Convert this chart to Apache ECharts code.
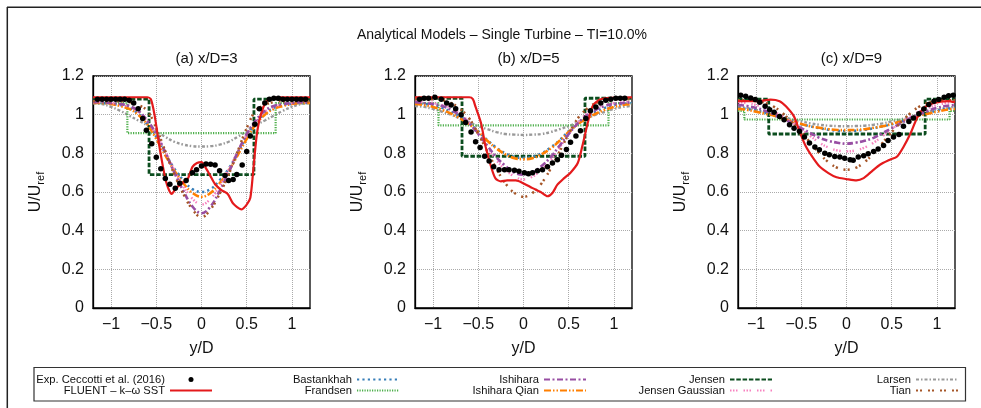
<!DOCTYPE html>
<html>
<head>
<meta charset="utf-8">
<script src="https://cdn.jsdelivr.net/npm/echarts@6/dist/echarts.min.js"></script>
<style>
    html, body { margin: 0; padding: 0; background: #fff; }
    #main { width: 981px; height: 408px; }
</style>
</head>
<body>
<div id="main"></div>
<script>
// x grid shared by the analytical model curves
var xs = [-1.2, -1.1, -1.0, -0.9, -0.8, -0.7, -0.6, -0.5, -0.4, -0.3, -0.2, -0.1, 0,
          0.1, 0.2, 0.3, 0.4, 0.5, 0.6, 0.7, 0.8, 0.9, 1.0, 1.1, 1.2];
var xTicks = [-1, -0.5, 0, 0.5, 1];
var panelTitles = ['(a) x/D=3', '(b) x/D=5', '(c) x/D=9'];

// ---- (a) x/D=3 ----
var expA = [[-1.15,1.08],[-1.1,1.08],[-1.05,1.08],[-1.0,1.08],[-0.95,1.08],[-0.9,1.08],[-0.85,1.08],[-0.8,1.075],
    [-0.75,1.06],[-0.7,1.03],[-0.65,0.98],[-0.61,0.92],[-0.55,0.85],[-0.5,0.78],[-0.45,0.72],[-0.4,0.67],
    [-0.35,0.64],[-0.29,0.62],[-0.24,0.645],[-0.17,0.66],[-0.1,0.70],[-0.055,0.715],[0,0.735],[0.05,0.745],
    [0.1,0.743],[0.15,0.74],[0.2,0.71],[0.26,0.685],[0.3,0.66],[0.35,0.665],[0.39,0.69],[0.45,0.74],
    [0.5,0.81],[0.54,0.89],[0.59,0.95],[0.64,1.03],[0.7,1.06],[0.75,1.08],[0.8,1.085],[0.85,1.085],
    [0.9,1.08],[0.95,1.08],[1.0,1.08],[1.05,1.08],[1.1,1.08],[1.15,1.08]];
var fluentA = [[-1.2,1.09],[-0.6,1.09],[-0.56,1.08],[-0.52,1.0],[-0.46,0.82],[-0.39,0.65],[-0.33,0.59],
    [-0.28,0.62],[-0.2,0.65],[-0.15,0.67],[-0.1,0.73],[-0.05,0.75],[0,0.755],[0.04,0.73],[0.09,0.69],
    [0.15,0.64],[0.22,0.61],[0.29,0.59],[0.35,0.54],[0.44,0.51],[0.5,0.535],[0.54,0.57],[0.57,0.70],
    [0.61,0.89],[0.65,0.99],[0.72,1.07],[0.86,1.09],[1.2,1.09]];
var bastA  = [1.06,1.06,1.055,1.05,1.035,1.005,0.955,0.885,0.80,0.72,0.66,0.615,0.60,0.615,0.66,0.72,0.80,0.885,0.955,1.005,1.035,1.05,1.055,1.06,1.06];
var qianA  = [1.06,1.06,1.055,1.045,1.03,1.0,0.95,0.875,0.79,0.71,0.645,0.595,0.575,0.595,0.645,0.71,0.79,0.875,0.95,1.0,1.03,1.045,1.055,1.06,1.06];
var ishiA  = [1.065,1.065,1.06,1.055,1.045,1.02,0.97,0.90,0.805,0.70,0.605,0.525,0.49,0.525,0.605,0.70,0.805,0.90,0.97,1.02,1.045,1.055,1.06,1.065,1.065];
var jgA    = [1.065,1.065,1.06,1.055,1.04,1.015,0.965,0.895,0.81,0.715,0.63,0.565,0.535,0.565,0.63,0.715,0.81,0.895,0.965,1.015,1.04,1.055,1.06,1.065,1.065];
var tianA  = [1.07,1.07,1.07,1.07,1.065,1.05,1.02,0.93,0.81,0.69,0.59,0.51,0.47,0.51,0.59,0.69,0.81,0.93,1.02,1.05,1.065,1.07,1.07,1.07,1.07];
var larsA  = [1.06,1.055,1.04,1.02,0.995,0.97,0.945,0.915,0.885,0.86,0.845,0.837,0.835,0.837,0.845,0.86,0.885,0.915,0.945,0.97,0.995,1.02,1.04,1.055,1.06];
var jensA  = [[-1.2,1.08],[-0.58,1.08],[-0.58,0.69],[0.58,0.69],[0.58,1.08],[1.2,1.08]];
var frandA = [[-1.2,1.06],[-0.82,1.06],[-0.82,0.905],[0.82,0.905],[0.82,1.06],[1.2,1.06]];

// ---- (b) x/D=5 ----
var expB = [[-1.15,1.08],[-1.1,1.085],[-1.05,1.085],[-0.98,1.09],[-0.91,1.08],[-0.85,1.06],[-0.8,1.05],[-0.75,1.03],
    [-0.69,1.0],[-0.64,0.96],[-0.58,0.91],[-0.53,0.86],[-0.48,0.83],[-0.43,0.785],[-0.38,0.76],[-0.33,0.73],
    [-0.27,0.715],[-0.21,0.715],[-0.16,0.715],[-0.1,0.712],[-0.05,0.707],[0.01,0.70],[0.055,0.695],[0.1,0.70],
    [0.155,0.71],[0.21,0.715],[0.265,0.73],[0.32,0.75],[0.375,0.767],[0.42,0.79],[0.475,0.82],[0.52,0.857],
    [0.58,0.89],[0.63,0.917],[0.69,0.98],[0.74,1.02],[0.8,1.04],[0.855,1.06],[0.91,1.075],[0.965,1.08],
    [1.02,1.085],[1.07,1.085],[1.12,1.085]];
var fluentB = [[-1.2,1.09],[-0.6,1.09],[-0.56,1.08],[-0.53,1.04],[-0.47,0.957],[-0.42,0.836],[-0.36,0.733],
    [-0.31,0.67],[-0.25,0.655],[-0.18,0.66],[-0.085,0.66],[0.007,0.643],[0.1,0.62],[0.19,0.60],[0.265,0.578],
    [0.32,0.595],[0.375,0.638],[0.45,0.672],[0.52,0.70],[0.6,0.75],[0.65,0.836],[0.71,0.957],[0.76,1.04],
    [0.84,1.077],[0.93,1.086],[1.2,1.09]];
var bastB  = [1.06,1.055,1.05,1.035,1.015,0.99,0.955,0.915,0.868,0.83,0.80,0.782,0.777,0.782,0.80,0.83,0.868,0.915,0.955,0.99,1.015,1.035,1.05,1.055,1.06];
var qianB  = [1.055,1.05,1.04,1.025,1.005,0.98,0.95,0.91,0.865,0.825,0.795,0.775,0.77,0.775,0.795,0.825,0.865,0.91,0.95,0.98,1.005,1.025,1.04,1.05,1.055];
var ishiB  = [1.065,1.06,1.055,1.045,1.025,0.995,0.955,0.90,0.84,0.78,0.735,0.70,0.69,0.70,0.735,0.78,0.84,0.90,0.955,0.995,1.025,1.045,1.055,1.06,1.065];
var jgB    = [1.07,1.065,1.06,1.05,1.035,1.005,0.96,0.90,0.83,0.765,0.715,0.68,0.665,0.68,0.715,0.765,0.83,0.90,0.96,1.005,1.035,1.05,1.06,1.065,1.07];
var tianB  = [1.08,1.08,1.08,1.075,1.06,1.03,0.98,0.90,0.81,0.72,0.645,0.595,0.575,0.595,0.645,0.72,0.81,0.90,0.98,1.03,1.06,1.075,1.08,1.08,1.08];
var larsB  = [1.045,1.04,1.03,1.015,1.0,0.98,0.96,0.94,0.925,0.91,0.90,0.897,0.895,0.897,0.90,0.91,0.925,0.94,0.96,0.98,1.0,1.015,1.03,1.04,1.045];
var jensB  = [[-1.2,1.085],[-0.68,1.085],[-0.68,0.785],[0.68,0.785],[0.68,1.085],[1.2,1.085]];
var frandB = [[-1.2,1.06],[-0.94,1.06],[-0.94,0.945],[0.94,0.945],[0.94,1.06],[1.2,1.06]];

// ---- (c) x/D=9 ----
var expC = [[-1.17,1.10],[-1.115,1.095],[-1.06,1.086],[-1.01,1.078],[-0.96,1.064],[-0.9,1.043],[-0.85,1.026],
    [-0.8,1.012],[-0.74,0.991],[-0.69,0.974],[-0.63,0.948],[-0.58,0.93],[-0.52,0.914],[-0.465,0.884],
    [-0.41,0.853],[-0.35,0.833],[-0.3,0.819],[-0.24,0.80],[-0.19,0.793],[-0.13,0.784],[-0.074,0.781],
    [-0.02,0.774],[0.04,0.767],[0.074,0.764],[0.13,0.781],[0.19,0.788],[0.24,0.798],[0.3,0.81],[0.35,0.822],
    [0.41,0.84],[0.46,0.866],[0.52,0.884],[0.58,0.897],[0.63,0.94],[0.69,0.965],[0.74,0.983],[0.8,1.005],
    [0.855,1.029],[0.91,1.052],[0.967,1.069],[1.02,1.078],[1.08,1.09],[1.13,1.098],[1.18,1.10]];
var fluentC = [[-1.2,1.07],[-0.97,1.07],[-0.84,1.078],[-0.74,1.07],[-0.67,1.043],[-0.58,0.99],[-0.52,0.914],
    [-0.45,0.836],[-0.37,0.776],[-0.3,0.733],[-0.2,0.698],[-0.11,0.676],[0,0.667],[0.11,0.66],[0.19,0.672],
    [0.28,0.707],[0.37,0.741],[0.48,0.767],[0.56,0.784],[0.63,0.833],[0.71,0.905],[0.78,0.983],[0.855,1.034],
    [0.97,1.06],[1.12,1.07],[1.2,1.064]];
var bastC  = [1.035,1.03,1.02,1.01,0.995,0.98,0.965,0.95,0.94,0.93,0.922,0.917,0.915,0.917,0.922,0.93,0.94,0.95,0.965,0.98,0.995,1.01,1.02,1.03,1.035];
var qianC  = [1.03,1.025,1.015,1.005,0.995,0.98,0.965,0.952,0.94,0.932,0.925,0.921,0.92,0.921,0.925,0.932,0.94,0.952,0.965,0.98,0.995,1.005,1.015,1.025,1.03];
var ishiC  = [1.05,1.045,1.035,1.02,1.0,0.98,0.955,0.93,0.905,0.88,0.865,0.855,0.85,0.855,0.865,0.88,0.905,0.93,0.955,0.98,1.0,1.02,1.035,1.045,1.05];
var jgC    = [1.065,1.06,1.05,1.035,1.015,0.99,0.96,0.925,0.89,0.855,0.83,0.815,0.81,0.815,0.83,0.855,0.89,0.925,0.96,0.99,1.015,1.035,1.05,1.06,1.065];
var tianC  = [1.075,1.075,1.07,1.06,1.04,1.005,0.96,0.91,0.855,0.80,0.755,0.725,0.715,0.725,0.755,0.80,0.855,0.91,0.96,1.005,1.04,1.06,1.07,1.075,1.075];
var larsC  = [1.04,1.035,1.025,1.015,1.0,0.99,0.975,0.965,0.955,0.948,0.943,0.941,0.94,0.941,0.943,0.948,0.955,0.965,0.975,0.99,1.0,1.015,1.025,1.035,1.04];
var jensC  = [[-1.2,1.08],[-0.86,1.08],[-0.86,0.90],[0.87,0.90],[0.87,1.08],[1.2,1.08]];
var frandC = [[-1.2,1.02],[-1.13,1.02],[-1.13,0.975],[1.14,0.975],[1.14,1.02],[1.2,1.02]];

var panels = [
    {exp: expA, fluent: fluentA, bast: bastA, frand: frandA, ishi: ishiA, qian: qianA, jens: jensA, jg: jgA, lars: larsA, tian: tianA},
    {exp: expB, fluent: fluentB, bast: bastB, frand: frandB, ishi: ishiB, qian: qianB, jens: jensB, jg: jgB, lars: larsB, tian: tianB},
    {exp: expC, fluent: fluentC, bast: bastC, frand: frandC, ishi: ishiC, qian: qianC, jens: jensC, jg: jgC, lars: larsC, tian: tianC}
];

var FONT = '"Liberation Sans", Arial, Helvetica, sans-serif';
var gridLeft = [93, 415, 738];

// model line styles
var styles = {
    bast:  {name: 'Bastankhah',      color: '#377eb8', width: 2.5, type: [2.2, 3.2]},
    frand: {name: 'Frandsen',        color: '#4daf4a', width: 2.2, type: [1.2, 1.3]},
    ishi:  {name: 'Ishihara',        color: '#984ea3', width: 2.6, type: [6, 2.5, 2, 2.5]},
    qian:  {name: 'Ishihara Qian',   color: '#ff7f00', width: 2.6, type: [7, 2, 1.5, 2, 1.5, 2]},
    jens:  {name: 'Jensen',          color: '#0b4d1e', width: 2.8, type: [4.5, 1.8]},
    jg:    {name: 'Jensen Gaussian', color: '#f781bf', width: 2.4, type: [1.5, 1.5, 1.5, 1.5, 1.5, 6]},
    lars:  {name: 'Larsen',          color: '#999999', width: 2.4, type: [3, 2, 1.5, 2]},
    tian:  {name: 'Tian',            color: '#a65628', width: 2.5, type: [2, 2, 2, 6]}
};
var modelOrder = ['lars', 'frand', 'jens', 'bast', 'qian', 'jg', 'ishi', 'tian'];

function zip(ys) {
    var out = [];
    for (var i = 0; i < xs.length; i++) out.push([xs[i], ys[i]]);
    return out;
}

var grids = [], xAxes = [], yAxes = [], series = [], titles = [];

titles.push({text: 'Analytical Models – Single Turbine – TI=10.0%', left: 497, top: 23, textAlign: 'center',
    textStyle: {fontFamily: FONT, fontSize: 14, fontWeight: 'normal', color: '#111'}});

for (var p = 0; p < 3; p++) {
    grids.push({left: gridLeft[p], top: 76, width: 217, height: 232, show: true,
        borderColor: '#000', borderWidth: 1.3, backgroundColor: 'transparent'});
    titles.push({text: panelTitles[p], left: gridLeft[p] + 108.5, top: 46, textAlign: 'center',
        textStyle: {fontFamily: FONT, fontSize: 15, fontWeight: 'normal', color: '#111'}});
    xAxes.push({
        type: 'value', gridIndex: p, min: -1.2, max: 1.2,
        name: 'y/D', nameLocation: 'middle', nameGap: 33,
        nameTextStyle: {fontFamily: FONT, fontSize: 16, color: '#111'},
        axisLine: {show: true, onZero: false, lineStyle: {color: '#000', width: 1.3}},
        axisTick: {show: false, customValues: xTicks},
        axisLabel: {customValues: xTicks, fontFamily: FONT, fontSize: 16, color: '#111', margin: 9,
            formatter: function (v) { return String(v).replace('-', '−'); }},
        splitLine: {show: true, lineStyle: {color: '#aaa', type: 'dotted', width: 1}}
    });
    yAxes.push({
        type: 'value', gridIndex: p, min: 0, max: 1.2, interval: 0.2,
        name: '{u|U/U}{r|ref}', nameLocation: 'middle', nameGap: 47,
        nameTextStyle: {fontFamily: FONT, color: '#111',
            rich: {u: {fontFamily: FONT, fontSize: 16, color: '#111'},
                   r: {fontFamily: FONT, fontSize: 11, color: '#111', padding: [9, 0, 0, 0]}}},
        axisLine: {show: true, onZero: false, lineStyle: {color: '#000', width: 1.3}},
        axisTick: {show: false},
        axisLabel: {fontFamily: FONT, fontSize: 16, color: '#111', margin: 9},
        splitLine: {show: true, lineStyle: {color: '#aaa', type: 'dotted', width: 1}}
    });

    var d = panels[p];
    modelOrder.forEach(function (k) {
        var s = styles[k];
        var stepLike = (k === 'jens' || k === 'frand');
        series.push({
            type: 'line', name: s.name, xAxisIndex: p, yAxisIndex: p,
            data: stepLike ? d[k] : zip(d[k]),
            smooth: stepLike ? false : 0.4,
            symbol: 'none', color: s.color,
            lineStyle: {color: s.color, width: s.width, type: s.type, cap: 'butt'}
        });
    });
    series.push({
        type: 'line', name: 'FLUENT – k–ω SST', xAxisIndex: p, yAxisIndex: p,
        data: d.fluent, smooth: 0.25, symbol: 'none', color: '#e41a1c',
        lineStyle: {color: '#e41a1c', width: 2.2}, z: 3
    });
    series.push({
        type: 'scatter', name: 'Exp. Ceccotti et al. (2016)', xAxisIndex: p, yAxisIndex: p,
        data: d.exp, symbol: 'circle', symbolSize: 5.5, itemStyle: {color: '#000', opacity: 1}, z: 4
    });
}

// legend columns, text right-aligned in front of the sample
var legendCols = [
    {right: 768, names: ['Exp. Ceccotti et al. (2016)', 'FLUENT – k–ω SST']},
    {right: 581, names: ['Bastankhah', 'Frandsen']},
    {right: 394, names: ['Ishihara', 'Ishihara Qian']},
    {right: 208, names: ['Jensen', 'Jensen Gaussian']},
    {right: 22,  names: ['Larsen', 'Tian']}
];
var legends = legendCols.map(function (c) {
    return {
        orient: 'vertical', right: c.right, top: 374, padding: 0, align: 'right',
        itemWidth: 42, itemHeight: 5, itemGap: 0,
        selectedMode: false,
        textStyle: {fontFamily: FONT, fontSize: 11.2, color: '#111', lineHeight: 10.5},
        data: c.names.map(function (n) {
            // the line samples get no marker in the middle
            return n.indexOf('Exp.') === 0 ? {name: n, icon: 'circle', itemStyle: {color: '#000', opacity: 1}}
                                           : {name: n, itemStyle: {opacity: 0}};
        })
    };
});

var chart = echarts.init(document.getElementById('main'), null, {renderer: 'canvas'});
chart.setOption({
    animation: false,
    backgroundColor: '#fff',
    title: titles,
    grid: grids,
    xAxis: xAxes,
    yAxis: yAxes,
    legend: legends,
    series: series,
    graphic: [
        {type: 'line', shape: {x1: 7, y1: 7.3, x2: 981, y2: 7.3}, style: {stroke: '#222', lineWidth: 1.5}},
        {type: 'line', shape: {x1: 7.3, y1: 7, x2: 7.3, y2: 408}, style: {stroke: '#222', lineWidth: 1.5}},
        {type: 'rect', shape: {x: 34, y: 367.5, width: 931.5, height: 33.5},
            style: {fill: 'none', stroke: '#333', lineWidth: 1.2}}
    ]
});
</script>
</body>
</html>
